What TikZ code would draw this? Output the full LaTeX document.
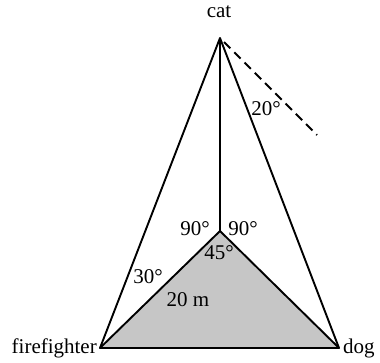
\documentclass[tikz,border=0pt]{standalone}
\usepackage{fontspec}
\setmainfont{Liberation Serif}
\begin{document}
\begin{tikzpicture}[x=1pt,y=-1pt,
  edge/.style={line width=1.9pt},
  lbl/.style={inner sep=0pt,font=\fontsize{21}{25}\selectfont},
  dashline/.style={line width=1.9pt,dash pattern=on 9pt off 5.5pt}]
\useasboundingbox (0,0) rectangle (380,362);
\coordinate (apex) at (220,38);
\coordinate (foot) at (220,231);
\coordinate (ff) at (100,348);
\coordinate (dog) at (339,348);
\coordinate (dstart) at (224,42);
\coordinate (dend) at (317,135);
\fill[gray!45] (ff) -- (foot) -- (dog) -- cycle;
\draw[edge,line join=round] (apex) -- (ff) -- (dog) -- cycle;
\draw[edge] (apex) -- (foot);
\draw[edge,line join=round] (ff) -- (foot) -- (dog);
\draw[dashline] (dstart) -- (dend);
\node[lbl] (catl) at (219,12) {cat};
\node[lbl,anchor=east] (ffl) at (97,348) {firefighter};
\node[lbl,anchor=west] (dogl) at (343,348) {dog};
\node[lbl] (a90l) at (195,229) {90°};
\node[lbl] (a90r) at (243,229) {90°};
\node[lbl] (a45) at (219,253) {45°};
\node[lbl] (a30) at (148,277) {30°};
\node[lbl] (d20) at (188,300) {20 m};
\node[lbl] (a20) at (266,109) {20°};
\end{tikzpicture}
\end{document}
